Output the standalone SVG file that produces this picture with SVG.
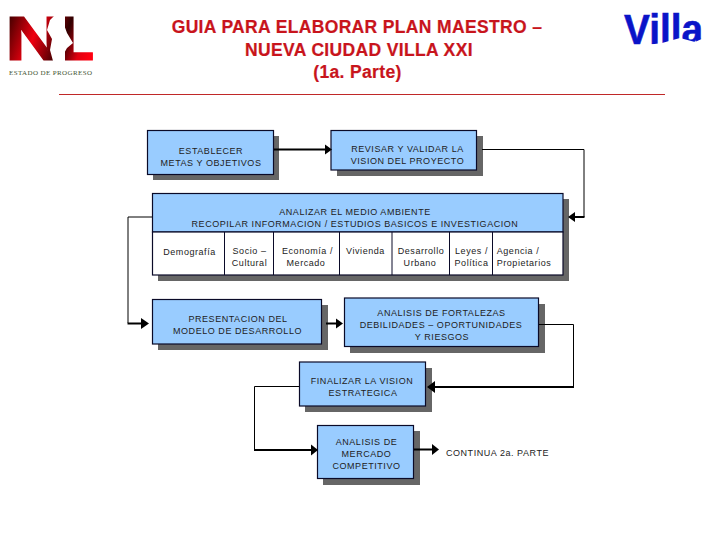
<svg xmlns="http://www.w3.org/2000/svg" width="720" height="540" viewBox="0 0 720 540">
<style>
text{font-family:"Liberation Sans",Arial,sans-serif}
.t{font-size:9px;fill:#222;text-anchor:middle;letter-spacing:.55px}
.h{font-size:17.500px;font-weight:bold;fill:#c8141c;text-anchor:middle;letter-spacing:.35px;stroke:#c8141c;stroke-width:.2px}
.b{fill:#99ccff;stroke:#0a0a28;stroke-width:1.2}
.w{fill:#fff;stroke:#0a0a28;stroke-width:1.2}
.s{fill:#666}
.c{fill:none;stroke:#000;stroke-width:1}
.k{fill:none;stroke:#000;stroke-width:2}
.a{fill:#000}
</style>
<defs>
<linearGradient id="g" gradientUnits="userSpaceOnUse" x1="9" y1="20" x2="93" y2="50">
<stop offset="0" stop-color="#4a0000"/><stop offset=".32" stop-color="#f00010"/><stop offset=".66" stop-color="#300000"/><stop offset=".86" stop-color="#e00010"/><stop offset="1" stop-color="#ff0010"/>
</linearGradient>
</defs>
<g id="logo-nl">
<text x="5" y="59.500" font-size="63" font-weight="bold" fill="url(#g)" stroke="url(#g)" stroke-width="1.2" textLength="58" lengthAdjust="spacingAndGlyphs">N</text>
<text x="62" y="59.500" font-size="63" font-weight="bold" fill="url(#g)" stroke="url(#g)" stroke-width="1.2" textLength="32" lengthAdjust="spacingAndGlyphs">L</text>
<polygon points="57,13 63,22 67,33 73,43 67,48 62,57 60,61 53,61 50,50 52,39 47,30 50,20" fill="#fff"/>
<text x="50.500" y="75" font-size="7" fill="#445533" text-anchor="middle" style="font-family:'Liberation Serif',serif" textLength="83">ESTADO DE PROGRESO</text>
</g>
<g id="logo-villa">
<text x="663.500" y="44" font-size="43" font-weight="bold" fill="#0a14c8" stroke="#0a14c8" stroke-width=".6" text-anchor="middle" textLength="79" lengthAdjust="spacingAndGlyphs">Villa</text>
<polygon points="640,46 706,46 706,37 695,42 680,38 662,43" fill="#fff"/>
</g>
<g id="title">
<text class="h" x="357" y="33">GUIA PARA ELABORAR PLAN MAESTRO –</text>
<text class="h" x="359" y="55.500">NUEVA CIUDAD VILLA XXI</text>
<text class="h" x="357.500" y="78">(1a. Parte)</text>
<line x1="59" y1="94.500" x2="665" y2="94.500" stroke="#c02828" stroke-width="1"/>
</g>
<g id="n1"><rect class="s" x="153" y="136" width="126" height="44"/><rect class="b" x="147.500" y="130.500" width="126" height="44"/>
<text class="t" x="211" y="154">ESTABLECER</text><text class="t" x="211" y="166">METAS Y OBJETIVOS</text></g>
<g id="n2"><rect class="s" x="337" y="136" width="146" height="40"/><rect class="b" x="331" y="130.500" width="145.500" height="39.500"/>
<text class="t" x="407.500" y="152">REVISAR Y VALIDAR LA</text><text class="t" x="407.500" y="164">VISION DEL PROYECTO</text></g>
<g id="n3"><rect class="s" x="158" y="199" width="411" height="82"/><rect class="b" x="152.500" y="193.500" width="410.500" height="38.500"/>
<rect class="w" x="152.500" y="232" width="410.500" height="43"/>
<path fill="none" stroke="#0a0a28" stroke-width="1" d="M224.500 232V275M273.500 232V275M339.500 232V275M392 232V275M449.500 232V275M492.500 232V275"/>
<text class="t" x="355" y="215">ANALIZAR EL MEDIO AMBIENTE</text><text class="t" x="355" y="227">RECOPILAR INFORMACION / ESTUDIOS BASICOS E INVESTIGACION</text>
<text class="t" x="189.500" y="255">Demografía</text>
<text class="t" x="249.500" y="254">Socio –</text><text class="t" x="249.500" y="266">Cultural</text>
<text class="t" x="307.500" y="254">Economía /</text><text class="t" x="306" y="266">Mercado</text>
<text class="t" x="365.500" y="254">Vivienda</text>
<text class="t" x="421" y="254">Desarrollo</text><text class="t" x="420" y="266">Urbano</text>
<text class="t" x="471.500" y="254">Leyes /</text><text class="t" x="471.500" y="266">Política</text>
<text class="t" x="518" y="254">Agencia /</text><text class="t" x="524" y="266">Propietarios</text></g>
<g id="n4"><rect class="s" x="158" y="305" width="170" height="45"/><rect class="b" x="152.500" y="299.500" width="169" height="44.500"/>
<text class="t" x="238" y="322">PRESENTACION DEL</text><text class="t" x="237.500" y="334">MODELO DE DESARROLLO</text></g>
<g id="n5"><rect class="s" x="350" y="304" width="195" height="49"/><rect class="b" x="344.500" y="298" width="194" height="48.500"/>
<text class="t" x="441.500" y="316">ANALISIS DE FORTALEZAS</text><text class="t" x="441" y="328">DEBILIDADES – OPORTUNIDADES</text><text class="t" x="442" y="340">Y RIESGOS</text></g>
<g id="n6"><rect class="s" x="305" y="368" width="127" height="44"/><rect class="b" x="299.500" y="362" width="126" height="44"/>
<text class="t" x="362" y="384">FINALIZAR LA VISION</text><text class="t" x="363" y="396">ESTRATEGICA</text></g>
<g id="n7"><rect class="s" x="323" y="431" width="97" height="54"/><rect class="b" x="317.500" y="425.500" width="96" height="53"/>
<text class="t" x="366.500" y="445">ANALISIS DE</text><text class="t" x="366.500" y="457">MERCADO</text><text class="t" x="366.500" y="469">COMPETITIVO</text></g>
<g id="n8"><text class="t" x="497.500" y="456">CONTINUA 2a. PARTE</text></g>
<g id="connectors">
<path class="k" d="M274 149.500H325"/><polygon class="a" points="332,149.500 325,144.500 325,154.500"/>
<path class="c" d="M482 149.500H584V217"/><path class="k" d="M584.500 217H574"/><polygon class="a" points="568,217 575,212 575,222"/>
<path class="c" d="M152 217H128V323"/><path class="k" d="M127.500 323.500H142"/><polygon class="a" points="149,323.500 141,318 141,329"/>
<path class="k" d="M326 323.500H337"/><polygon class="a" points="343,323.500 336,318.500 336,328.500"/>
<path class="c" d="M539 324.500H573.500V387"/><path class="k" d="M574 387H432"/><polygon class="a" points="427,387 435,381 435,393"/>
<path class="c" d="M299 386.500H254.500V450"/><path class="k" d="M254 450H312"/><polygon class="a" points="318,450 311,444.500 311,455.500"/>
<path class="k" d="M414 449.500H433"/><polygon class="a" points="439,449.500 432,444 432,455"/>
</g>
</svg>
